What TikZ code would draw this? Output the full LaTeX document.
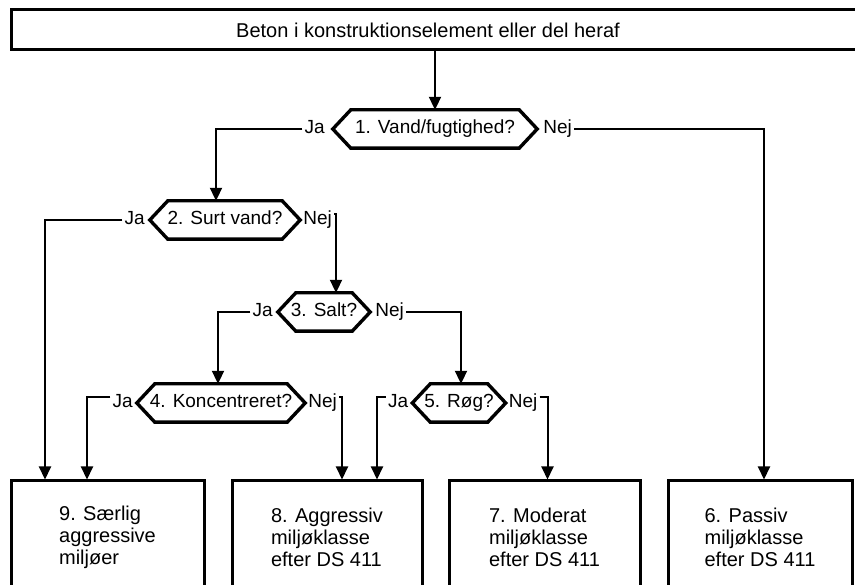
\documentclass[tikz,border=0pt]{standalone}
\usepackage{fontspec}
\setmainfont{Liberation Sans}
\usetikzlibrary{arrows.meta,calc}
\tikzset{
  txt/.style={font=\fontsize{19}{22}\selectfont},
  bigtxt/.style={font=\fontsize{20}{22}\selectfont},
  boxnode/.style={draw, line width=3pt, bigtxt, inner sep=0pt, align=left},
  hexnode/.style={txt, inner sep=0pt, minimum height=38pt, text height=13.5pt, text depth=4pt},
  hexline/.style={line width=3.4pt, line join=miter},
  lbl/.style={txt, inner xsep=2pt, inner ysep=2pt, text height=13.5pt, text depth=4pt},
  arr/.style={line width=2pt, -{Triangle[length=13pt,width=12pt]}},
}
\newcommand\hexoutline[1]{\draw[hexline] (#1.north west) -- (#1.north east) -- ([xshift=18pt]#1.east) -- (#1.south east) -- (#1.south west) -- ([xshift=-18pt]#1.west) -- cycle;}
\begin{document}
\begin{tikzpicture}[x=1pt,y=-1pt]
\useasboundingbox (0,0) rectangle (855,585);
\clip (0,0) rectangle (855,585);
\fill[white] (0,0) rectangle (855,585);
% top box
\node[boxnode, minimum width=855pt, minimum height=40pt] (top) at (438.5,30) {\hspace*{-21pt}Beton i konstruktionselement eller del heraf};
% decisions
\node[hexnode, minimum width=168pt] (d1) at (435,129) {\makebox[0pt]{1. Vand/fugtighed?}};
\node[hexnode, minimum width=114pt] (d2) at (225,220) {\makebox[0pt]{2. Surt vand?}};
\node[hexnode, minimum width=56pt] (d3) at (324,312) {\makebox[0pt]{3. Salt?}};
\node[hexnode, minimum width=132pt] (d4) at (221,403) {\makebox[0pt]{4. Koncentreret?}};
\node[hexnode, minimum width=57pt] (d5) at (459,403) {\makebox[0pt]{5. Røg?}};
\hexoutline{d1}\hexoutline{d2}\hexoutline{d3}\hexoutline{d4}\hexoutline{d5}
% labels
\node[lbl, anchor=east] (ja1) at ([xshift=-24pt]d1.west) {Ja};
\node[lbl, anchor=west] (nej1) at ([xshift=22pt]d1.east) {Nej};
\node[lbl, anchor=east] (ja2) at ([xshift=-21pt]d2.west) {Ja};
\node[lbl, anchor=west] (nej2) at ([xshift=19pt]d2.east) {Nej};
\node[lbl, anchor=east] (ja3) at ([xshift=-21pt]d3.west) {Ja};
\node[lbl, anchor=west] (nej3) at ([xshift=21pt]d3.east) {Nej};
\node[lbl, anchor=east] (ja4) at ([xshift=-20pt]d4.west) {Ja};
\node[lbl, anchor=west] (nej4) at ([xshift=19pt]d4.east) {Nej};
\node[lbl, anchor=east] (ja5) at ([xshift=-20pt]d5.west) {Ja};
\node[lbl, anchor=west] (nej5) at ([xshift=19pt]d5.east) {Nej};
% bottom boxes
\node[boxnode, minimum width=193pt, minimum height=112pt] (b9) at (107.5,537) {9. Særlig\\aggressive\\miljøer};
\node[boxnode, minimum width=190pt, minimum height=112pt] (b8) at (327,537) {8. Aggressiv\\miljøklasse\\efter DS 411};
\node[boxnode, minimum width=191pt, minimum height=112pt] (b7) at (544.5,537) {7. Moderat\\miljøklasse\\efter DS 411};
\node[boxnode, minimum width=184pt, minimum height=112pt] (b6) at (760,537) {6. Passiv\\miljøklasse\\efter DS 411};
% connectors
\draw[arr] (top.south -| d1.north) -- (d1.north);
\draw[arr] (ja1.west) -| ([xshift=-9pt]d2.north);
\draw[arr] (nej1.east) -| ([xshift=4pt]b6.north);
\draw[arr] (ja2.west) -| ([xshift=-62.5pt]b9.north);
\draw[arr] ([yshift=-5pt]nej2.north east) -| ([xshift=12pt]d3.north);
\draw[arr] (ja3.west) -| ([xshift=-3pt]d4.north);
\draw[arr] (nej3.east) -| ([xshift=2pt]d5.north);
\draw[arr] ([yshift=-5pt]ja4.north west) -| ([xshift=-20.5pt]b9.north);
\draw[arr] ([yshift=-5pt]nej4.north east) -| ([xshift=15pt]b8.north);
\draw[arr] ([yshift=-5pt]ja5.north west) -| ([xshift=50pt]b8.north);
\draw[arr] ([yshift=-5pt]nej5.north east) -| ([xshift=3pt]b7.north);
\end{tikzpicture}
\end{document}
